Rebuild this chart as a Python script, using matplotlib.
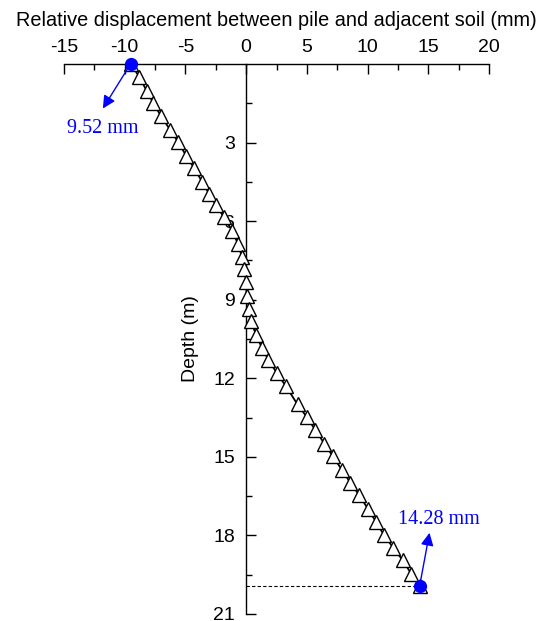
import matplotlib
matplotlib.use("Agg")
import matplotlib.pyplot as plt
from matplotlib.ticker import MultipleLocator, FixedLocator

depth = [0.0, 0.48, 1.04, 1.5, 2.0, 2.51, 2.98, 3.5, 3.99, 4.5, 4.98, 5.38, 5.86,
         6.36, 6.88, 7.36, 7.84, 8.34, 8.86, 9.34, 9.83, 10.33, 10.83, 11.3, 11.8,
         12.31, 13.0, 13.48, 13.96, 14.5, 14.98, 15.49, 15.98, 16.47, 16.98, 17.49,
         18.0, 18.48, 18.95, 19.46, 19.95]
disp = [-9.52, -8.8, -8.18, -7.63, -7.0, -6.26, -5.6, -4.94, -4.26, -3.62, -3.02,
        -2.5, -1.81, -1.16, -0.66, -0.35, -0.14, 0.0, 0.05, 0.26, 0.43, 0.8, 1.29,
        1.84, 2.53, 3.29, 4.23, 5.0, 5.68, 6.45, 7.14, 7.88, 8.57, 9.33, 10.02,
        10.71, 11.37, 12.13, 12.9, 13.59, 14.28]
x_ticks = [-15, -10, -5, 0, 5, 10, 15, 20]
y_ticks = [3, 6, 9, 12, 15, 18, 21]

plt.rcParams['font.family'] = ['Liberation Sans', 'DejaVu Sans']

fig = plt.figure(figsize=(5.45, 6.21), dpi=100)
ax = fig.add_axes([64/545, 1-614/621, 425/545, 550/621])

ax.plot(disp, depth, color='black', lw=1.3, marker='^', markersize=10,
        markerfacecolor='white', markeredgecolor='black', markeredgewidth=1.0, zorder=3)
ax.plot([disp[0], disp[-1]], [depth[0], depth[-1]], ls='none', marker='o',
        markersize=8.5, color='blue', zorder=5, clip_on=False)

# dashed guide at pile toe
ax.plot([0, disp[-1]], [depth[-1], depth[-1]], ls=(0, (3, 2)), color='black', lw=0.8, zorder=2)

ax.set_xlim(-15, 20)
ax.set_ylim(21, 0)

ax.spines['left'].set_position(('data', 0))
ax.spines['right'].set_visible(False)
ax.spines['bottom'].set_visible(False)
for s in ('left', 'top'):
    ax.spines[s].set_linewidth(1.0)

ax.xaxis.set_ticks_position('top')
ax.xaxis.set_label_position('top')
ax.set_xticks(x_ticks)
ax.set_xticklabels([str(v) for v in x_ticks])
ax.xaxis.set_minor_locator(MultipleLocator(2.5))
ax.set_yticks(y_ticks)
ax.set_yticklabels([str(v) for v in y_ticks])
ax.yaxis.set_minor_locator(FixedLocator([1.5, 4.5, 7.5, 10.5, 13.5, 16.5, 19.5]))

ax.tick_params(axis='both', which='major', direction='in', length=7, width=1.0,
               labelsize=14, pad=6)
ax.tick_params(axis='both', which='minor', direction='in', length=4, width=1.0)
ax.tick_params(axis='y', which='major', pad=8)

ax.set_xlabel('Relative displacement between pile and adjacent soil (mm)', fontsize=14.3, labelpad=9)
ax.set_ylabel('Depth (m)', fontsize=14, labelpad=10)

serif = ['Liberation Serif', 'DejaVu Serif']
ax.annotate('', xy=(-11.8, 1.7), xytext=(disp[0], depth[0]),
            arrowprops=dict(arrowstyle='-|>', color='blue', lw=1.0, mutation_scale=19,
                            shrinkA=0, shrinkB=0))
ax.text(-11.8, 2.45, '9.52 mm', color='blue', fontsize=14.5, family=serif,
        ha='center', va='center')
ax.annotate('', xy=(15.1, 17.9), xytext=(disp[-1], depth[-1]),
            arrowprops=dict(arrowstyle='-|>', color='blue', lw=1.0, mutation_scale=19,
                            shrinkA=0, shrinkB=0))
ax.text(15.9, 17.4, '14.28 mm', color='blue', fontsize=14.5, family=serif,
        ha='center', va='center')

fig.savefig('out.png', dpi=100)
